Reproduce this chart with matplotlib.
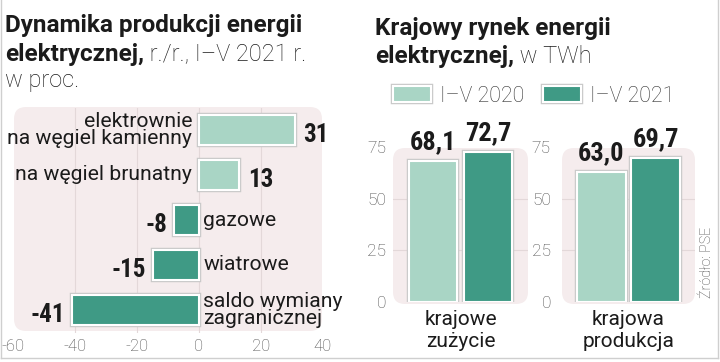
import matplotlib
matplotlib.use("Agg")
import matplotlib.pyplot as plt
from matplotlib.patches import FancyBboxPatch
from matplotlib.lines import Line2D
from matplotlib.transforms import IdentityTransform
import matplotlib.patheffects as pe
from matplotlib import font_manager as fm

W, H = 720, 362

# ---------------- data ----------------
dyn_categories = ['elektrownie\nna węgiel kamienny', 'na węgiel brunatny',
                  'gazowe', 'wiatrowe', 'saldo wymiany\nzagranicznej']
dyn_values = [31, 13, -8, -15, -41]
dyn_xticks = [-60, -40, -20, 0, 20, 40]

market_groups = ['krajowe\nzużycie', 'krajowa\nprodukcja']
market_2020 = [68.1, 63.0]
market_2021 = [72.7, 69.7]
series_labels = ['I–V 2020', 'I–V 2021']
market_yticks = [0, 25, 50, 75]

# ---------------- style ----------------
names = {f.name for f in fm.fontManager.ttflist}
BASE = 'Roboto'
COND = 'Roboto Condensed' if 'Roboto Condensed' in names else 'Roboto'
plt.rcParams['font.family'] = [BASE, 'DejaVu Sans']

LIGHT = '#a9d5c5'
DARK = '#3f9a85'
TXT = '#1b1b1b'
TICK = '#4a4a4a'
BG = '#f5eced'
GRID = '#e3d8d9'

fig = plt.figure(figsize=(W / 100, H / 100), dpi=100)
fig.patch.set_facecolor('white')


def px_axes(x0, y0, x1, y1):
    return fig.add_axes([x0 / W, 1 - y1 / H, (x1 - x0) / W, (y1 - y0) / H])


def px_box(x0, y0, x1, y1, r, color):
    p = FancyBboxPatch((x0, H - y1), x1 - x0, y1 - y0,
                       boxstyle=f'round,pad=0,rounding_size={r}',
                       transform=IdentityTransform(), facecolor=color,
                       edgecolor='none', zorder=-5)
    fig.add_artist(p)


def fx(x):
    return x / W


def fy(y):
    return 1 - y / H


bar_fx = [pe.Stroke(linewidth=3.2, foreground='#c9c9c9'), pe.Normal()]

# ---------------- titles ----------------
renderer = fig.canvas.get_renderer()


def mixed_line(x, y, parts):
    for s, kw in parts:
        t = fig.text(fx(x), fy(y), s, va='baseline', ha='left', color=TXT, **kw)
        x += t.get_window_extent(renderer=renderer).width


TB = dict(family=[BASE, 'DejaVu Sans'], weight='bold', fontsize=17.5)
TL = dict(family=[BASE, 'DejaVu Sans'], weight='light', fontsize=17)

mixed_line(5, 32, [('Dynamika produkcji energii', TB)])
mixed_line(5, 61, [('elektrycznej,', TB), (' r./r., I–V 2021 r.', TL)])
mixed_line(5, 87, [('w proc.', TL)])

mixed_line(375, 35, [('Krajowy rynek energii', TB)])
mixed_line(375, 63, [('elektrycznej,', TB), (' w TWh', TL)])

# ---------------- left panel ----------------
px_box(14, 107, 322, 331, 12, BG)
ax = px_axes(13, 107.5, 323, 332.5)
ax.set_facecolor('none')
ax.set_xlim(-60, 40)
ax.set_ylim(4.5, -0.5)
for s in ax.spines.values():
    s.set_visible(False)
for g in [-40, -20, 0, 20]:
    ax.axvline(g, color=GRID, lw=0.8, zorder=1)
ypos = list(range(len(dyn_values)))
cols = [LIGHT if v > 0 else DARK for v in dyn_values]
bars = ax.barh(ypos, dyn_values, height=0.67, color=cols, edgecolor='white',
               linewidth=1.5, zorder=3)
for b in bars:
    b.set_path_effects(bar_fx)
ax.set_yticks([])
ax.set_xticks(dyn_xticks)
ax.set_xticklabels([str(v) for v in dyn_xticks])
ax.tick_params(axis='x', length=0, pad=5, labelsize=12, labelcolor=TICK)
for lab in ax.get_xticklabels():
    lab.set_fontweight('light')

CAT = 15.2
for y, v, c in zip(ypos, dyn_values, dyn_categories):
    if v > 0:
        ax.annotate(c, (0, y), xytext=(-5, 0), textcoords='offset points',
                    ha='right', va='center', fontsize=CAT, color=TXT,
                    linespacing=0.9)
        ax.annotate(str(v), (v, y), xytext=(6, -8.5), textcoords='offset points',
                    ha='left', va='baseline', fontsize=18, fontweight='bold',
                    family=[COND, 'DejaVu Sans'], color=TXT)
    else:
        ax.annotate(c, (0, y), xytext=(3, 0), textcoords='offset points',
                    ha='left', va='center', fontsize=CAT, color=TXT,
                    linespacing=0.9)
        ax.annotate(str(v), (v, y), xytext=(-5, -8.5), textcoords='offset points',
                    ha='right', va='baseline', fontsize=18, fontweight='bold',
                    family=[COND, 'DejaVu Sans'], color=TXT)

# ---------------- right panels ----------------
panels = [(393, 528), (562, 695)]
handles = None
for i, (x0, x1) in enumerate(panels):
    px_box(x0, 148, x1, 304, 12, BG)
    a = px_axes(x0, 147, x1, 302)
    a.set_facecolor('none')
    a.set_ylim(0, 75)
    a.set_xlim(-0.73, 1.73)
    for s in a.spines.values():
        s.set_visible(False)
    for g in [25, 50]:
        a.axhline(g, color=GRID, lw=0.8, zorder=1)
    b1 = a.bar([0], [market_2020[i]], width=0.89, color=LIGHT, edgecolor='white',
               linewidth=1.5, zorder=3, label=series_labels[0])
    b2 = a.bar([1], [market_2021[i]], width=0.89, color=DARK, edgecolor='white',
               linewidth=1.5, zorder=3, label=series_labels[1])
    for b in list(b1) + list(b2):
        b.set_path_effects(bar_fx)
    if handles is None:
        handles = [b1, b2]
    for xpos, v in [(0, market_2020[i]), (1, market_2021[i])]:
        a.annotate(f'{v:.1f}'.replace('.', ','), (xpos, v), xytext=(0, 8.5),
                   textcoords='offset points', ha='center', va='baseline',
                   fontsize=19, fontweight='bold', family=[COND, 'DejaVu Sans'],
                   color=TXT)
    a.set_xticks([])
    a.set_yticks(market_yticks)
    a.set_yticklabels([str(v) for v in market_yticks])
    a.tick_params(axis='y', length=0, pad=5 if i == 0 else 8, labelsize=12.5,
                  labelcolor=TICK)
    for lab in a.get_yticklabels():
        lab.set_fontweight('light')
    fig.text(fx((x0 + x1) / 2), fy(310), market_groups[i], ha='center', va='top',
             fontsize=15, color=TXT, linespacing=1.2)

leg = fig.legend(handles=handles, labels=series_labels, ncol=2, loc='upper left',
                 bbox_to_anchor=(fx(393), fy(85.5)), frameon=False, fontsize=15.5,
                 handlelength=1.75, handleheight=0.8, handletextpad=0.45,
                 columnspacing=0.85, borderpad=0, borderaxespad=0)
for t in leg.get_texts():
    t.set_fontweight('light')
    t.set_color('#333333')

fig.text(fx(707), fy(298), 'Źródło: PSE', rotation=90, ha='center', va='bottom',
         fontsize=10.3, fontweight='light', color='#444444')

# frame
for xs, ys in [([1, 1], [0, 358]), ([1, 718], [358, 358]), ([718, 718], [0, 358])]:
    fig.add_artist(Line2D([fx(v) for v in xs], [fy(v) for v in ys],
                          color='#cfcfcf', lw=1))

fig.savefig('out.png', dpi=100)
